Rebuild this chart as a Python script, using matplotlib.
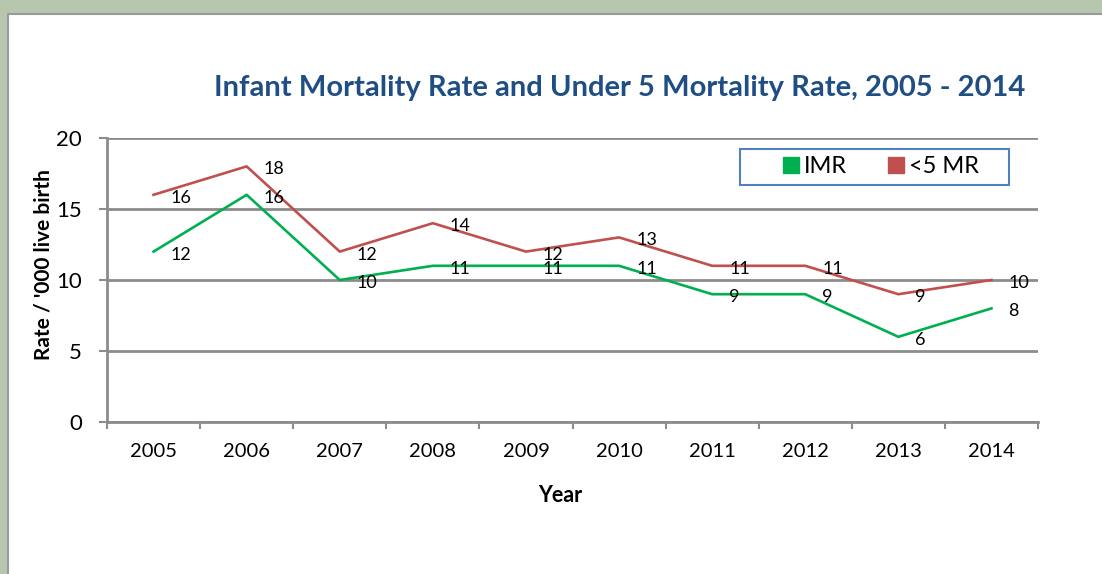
import matplotlib.pyplot as plt
from matplotlib.lines import Line2D
from matplotlib.patches import Rectangle

years = ["2005", "2006", "2007", "2008", "2009", "2010", "2011", "2012", "2013", "2014"]
imr = [12, 16, 10, 11, 11, 11, 9, 9, 6, 8]
u5mr = [16, 18, 12, 14, 12, 13, 11, 11, 9, 10]
y_ticks = [0, 5, 10, 15, 20]

TITLE = "Infant Mortality Rate and Under 5 Mortality Rate, 2005 - 2014"
GREEN = "#00B050"
RED = "#C0504D"
GRID = "#8C8C8C"
SLIDE = "#b7c7ae"
FONT = ["Lato", "DejaVu Sans"]

plt.rcParams["font.family"] = FONT

W, H = 1102, 574
fig = plt.figure(figsize=(W / 100, H / 100), dpi=100)
fig.patch.set_facecolor("white")

# slide background around the white chart panel (top and left strips)
px = 8 / W
py = 1 - 14 / H
fig.patches.append(Rectangle((0, py), 1, 1 - py, transform=fig.transFigure,
                             facecolor=SLIDE, edgecolor="none", zorder=-10))
fig.patches.append(Rectangle((0, 0), px, 1, transform=fig.transFigure,
                             facecolor=SLIDE, edgecolor="none", zorder=-10))
fig.add_artist(Line2D([px, px, 1], [0, py, py], transform=fig.transFigure,
                      color="#9a9a9a", linewidth=1.5, zorder=-5))

ax = fig.add_axes([107 / W, 1 - 422 / H, 931 / W, 284 / H])
ax.set_facecolor("none")

x = list(range(len(years)))
ax.plot(x, imr, color=GREEN, linewidth=1.9, zorder=3)
ax.plot(x, u5mr, color=RED, linewidth=1.9, zorder=3)

for series in (imr, u5mr):
    for xi, v in zip(x, series):
        ax.annotate(str(v), (xi, v), xytext=(17, -3), textcoords="offset pixels",
                    ha="left", va="center", fontsize=13, color="black", zorder=4)

ax.set_xlim(-0.5, len(years) - 0.5)
ax.set_ylim(0, 20)
ax.set_yticks(y_ticks)
ax.set_yticklabels([str(t) for t in y_ticks], fontsize=16)
ax.set_xticks(x)
ax.set_xticklabels(years, fontsize=14.5)
ax.set_xticks([i - 0.5 for i in range(len(years) + 1)], minor=True)
ax.tick_params(axis="x", which="major", length=0, pad=15)
ax.tick_params(axis="x", which="minor", length=5, width=1.5, color=GRID, direction="out")
ax.tick_params(axis="y", length=6, width=1.5, color=GRID, pad=12)

for s in ["top", "right"]:
    ax.spines[s].set_visible(False)
for s in ["left", "bottom"]:
    ax.spines[s].set_color(GRID)
    ax.spines[s].set_linewidth(2)
ax.grid(axis="y", color=GRID, linewidth=2)
ax.set_axisbelow(True)

ax.set_ylabel("Rate / '000 live birth", fontsize=15, fontweight="bold", va="center")
ax.yaxis.set_label_coords((44 - 107) / 931, (422 - 265) / 284)
ax.set_xlabel("Year", fontsize=15.5, fontweight="bold", va="center")
ax.xaxis.set_label_coords((560 - 107) / 931, (422 - 495) / 284)

fig.text(620 / W, 1 - 88 / H, TITLE, fontsize=21, fontweight="bold",
         color="#1F4E85", ha="center", va="center")

# legend: entries without frame, blue box drawn separately
handles = [
    Line2D([], [], marker="s", linestyle="none", markersize=11, color=GREEN, label="IMR"),
    Line2D([], [], marker="s", linestyle="none", markersize=11, color=RED, label="<5 MR"),
]
fig.legend(handles=handles, loc="center", bbox_to_anchor=(879.5 / W, 1 - 167 / H),
           ncol=2, fontsize=17, frameon=False, handletextpad=0.1,
           columnspacing=1.6, borderpad=0, handlelength=0.9, borderaxespad=0)
fig.patches.append(Rectangle((740 / W, 1 - 185 / H), 269 / W, 36 / H,
                             transform=fig.transFigure, facecolor="white",
                             edgecolor="#4F81BD", linewidth=1.5, zorder=1))

fig.savefig("out.png", dpi=100)
